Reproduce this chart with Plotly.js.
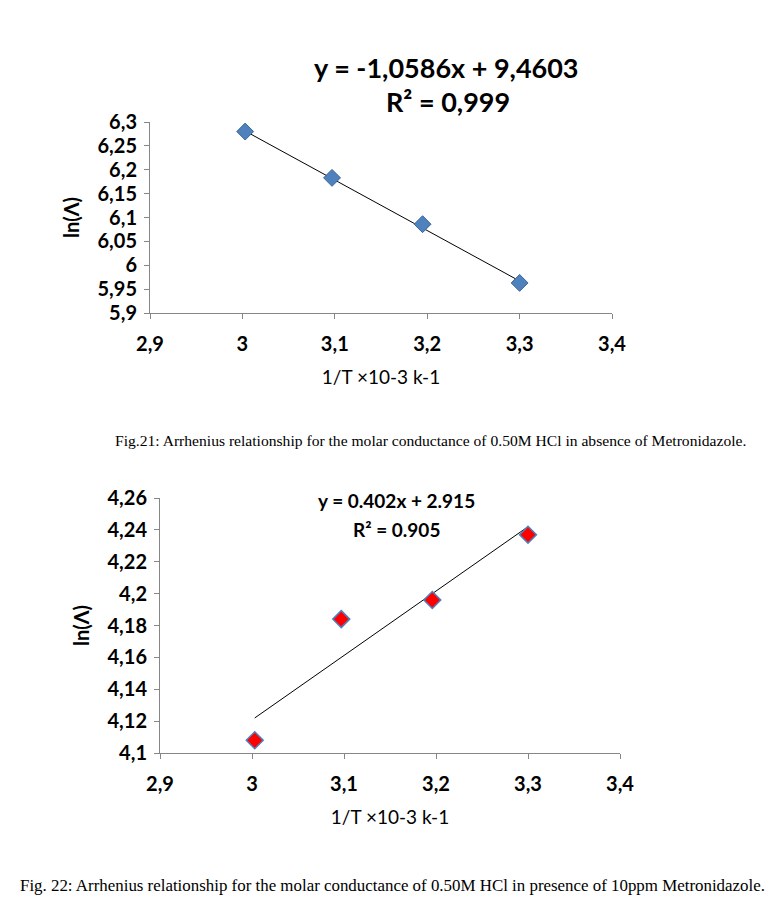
<!DOCTYPE html>
<html><head><meta charset="utf-8">
<script src="https://cdn.plot.ly/plotly-3.0.1.min.js"></script>
<style>html,body{margin:0;padding:0;background:#fff}#c{width:776px;height:919px}</style>
</head><body><div id="c"></div>
<script>
// Figure 21 data (absence of Metronidazole)
const x1 = [3.003, 3.097, 3.195, 3.300];
const y1 = [6.280, 6.183, 6.086, 5.963];
const trend1X = [3.003, 3.300];
const trend1Y = [6.281, 5.967];
const eq1 = "y = -1,0586x + 9,4603";
const r1 = "R² = 0,999";
const y1Ticks = [5.9, 5.95, 6, 6.05, 6.1, 6.15, 6.2, 6.25, 6.3];
const y1TickText = ["5,9", "5,95", "6", "6,05", "6,1", "6,15", "6,2", "6,25", "6,3"];

// Figure 22 data (presence of 10ppm Metronidazole)
const x2 = [3.003, 3.097, 3.196, 3.300];
const y2 = [4.108, 4.184, 4.196, 4.237];
const trend2X = [3.003, 3.300];
const trend2Y = [4.122, 4.242];
const eq2 = "y = 0.402x + 2.915";
const r2 = "R² = 0.905";
const y2Ticks = [4.1, 4.12, 4.14, 4.16, 4.18, 4.2, 4.22, 4.24, 4.26];
const y2TickText = ["4,1", "4,12", "4,14", "4,16", "4,18", "4,2", "4,22", "4,24", "4,26"];

const xTicks = [2.9, 3.0, 3.1, 3.2, 3.3, 3.4];
const xTickText = ["2,9", "3", "3,1", "3,2", "3,3", "3,4"];
const xTitle = "1/T ×10-3 k-1";
const yTitle = "ln(Λ)";
const cap1 = "Fig.21: Arrhenius relationship for the molar conductance of 0.50M HCl in absence of Metronidazole.";
const cap2 = "Fig. 22: Arrhenius relationship for the molar conductance of 0.50M HCl in presence of 10ppm Metronidazole.";

const W = 776, H = 919;
const px = v => v / W;
const py = v => 1 - v / H;
const FONT = "Lato, 'Open Sans', sans-serif";
const SERIF = "'Liberation Serif', serif";
const AX = "#868686";

const traces = [
  {x: trend1X, y: trend1Y, xaxis: 'x', yaxis: 'y', mode: 'lines', line: {color: '#000', width: 1}, hoverinfo: 'skip'},
  {x: x1, y: y1, xaxis: 'x', yaxis: 'y', mode: 'markers', marker: {symbol: 'diamond', size: 13, color: '#4F81BD', line: {color: '#3A679C', width: 1}}},
  {x: trend2X, y: trend2Y, xaxis: 'x2', yaxis: 'y2', mode: 'lines', line: {color: '#000', width: 1}, hoverinfo: 'skip'},
  {x: x2, y: y2, xaxis: 'x2', yaxis: 'y2', mode: 'markers', marker: {symbol: 'diamond', size: 13, color: '#FF0000', line: {color: '#4F81BD', width: 1.5}}}
];

function xa(dom, anchor) {
  return {domain: dom, anchor: anchor, range: [2.9, 3.4], tickvals: xTicks, ticktext: xTickText,
    showgrid: false, zeroline: false, showline: true, linecolor: AX, linewidth: 1,
    ticks: 'outside', ticklen: 5, tickcolor: AX, ticklabelstandoff: 8,
    tickfont: {family: FONT, size: 20, color: '#000', weight: 'bold'},
    title: {text: xTitle, font: {family: FONT, size: 19, color: '#000'}, standoff: 16}};
}
function ya(dom, anchor, r, tv, tt) {
  return {domain: dom, anchor: anchor, range: r, tickvals: tv, ticktext: tt,
    showgrid: false, zeroline: false, showline: true, linecolor: AX, linewidth: 1,
    ticks: 'outside', ticklen: 5, tickcolor: AX, ticklabelstandoff: 3,
    tickfont: {family: FONT, size: 20, color: '#000', weight: 'bold'},
    title: {text: yTitle, font: {family: FONT, size: 20, color: '#000', weight: 'bold'}, standoff: 12}};
}

function ann(text, x, y, size, fam, bold, xanchor) {
  const f = {family: fam, size: size, color: '#000'};
  if (bold) f.weight = 'bold';
  return {text: text, xref: 'paper', yref: 'paper', x: px(x), y: py(y), xanchor: xanchor || 'center', yanchor: 'middle', showarrow: false, font: f};
}

const layout = {
  width: W, height: H, margin: {l: 0, r: 0, t: 0, b: 0},
  paper_bgcolor: '#fff', plot_bgcolor: '#fff', showlegend: false,
  xaxis: xa([px(150), px(612)], 'y'),
  yaxis: ya([py(313), py(122)], 'x', [5.9, 6.3], y1Ticks, y1TickText),
  xaxis2: xa([px(160), px(620)], 'y2'),
  yaxis2: ya([py(753), py(498)], 'x2', [4.1, 4.26], y2Ticks, y2TickText),
  annotations: [
    ann(eq1, 447, 68, 27, FONT, true),
    ann(r1, 448, 102, 27, FONT, true),
    ann(eq2, 397, 501, 19, FONT, true),
    ann(r2, 396, 529, 19, FONT, true),
    ann(cap1, 430, 440, 15.6, SERIF, false),
    ann(cap2, 767, 885, 16.9, SERIF, false, 'right')
  ]
};

Plotly.newPlot('c', traces, layout, {staticPlot: true, displayModeBar: false});
</script>
</body></html>
